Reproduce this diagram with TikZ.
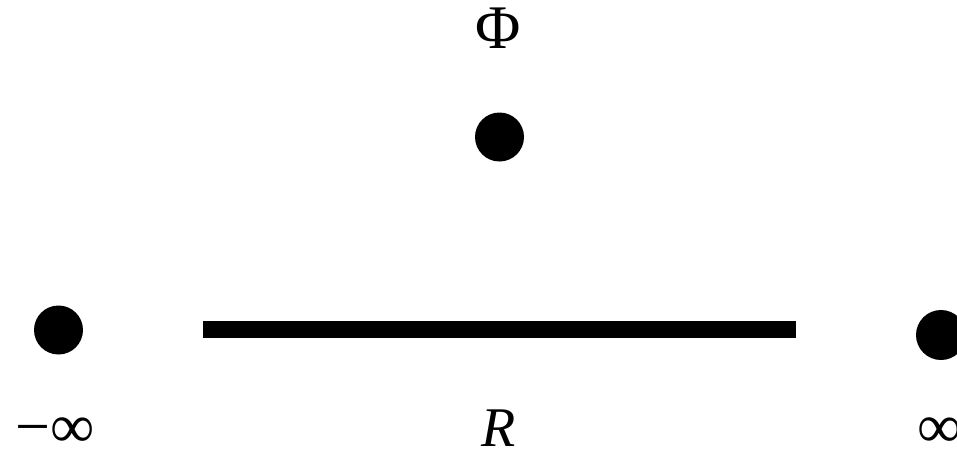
\documentclass[tikz,border=0pt]{standalone}
\usepackage{fontspec}
\setmainfont{Liberation Serif}
\usetikzlibrary{positioning}

\begin{document}
\begin{tikzpicture}[
  x=1pt, y=-1pt,
  vertex/.style={circle, fill=black, inner sep=0pt, minimum size=49pt},
  lbl/.style={font=\fontsize{56}{60}\selectfont, inner sep=0pt, text depth=0pt, anchor=base},
  inflbl/.style={lbl, font=\fontsize{62}{66}\selectfont},
  bar/.style={draw=black, line width=17pt}
]
\useasboundingbox (0,0) rectangle (957,453);
% points
\node[vertex] (phi) at (499.5,137) {};
\node[vertex] (minf) at (58.5,330) {};
\node[vertex, minimum size=50pt] (pinf) at (941,335) {};
% the real line
\coordinate (rl) at (203,329.5);
\coordinate (rr) at (796,329.5);
\draw[bar] (rl) -- (rr);
% labels
\node[lbl, font=\fontsize{62}{66}\selectfont] (philbl) at (498.5,48) {Φ};
\node[inflbl] (minflbl) at (55.5,447) {−∞};
\node[lbl] (rlbl) at (498.5,446) {\textit{R}};
\node[inflbl] (pinflbl) at (940,447) {∞};
\end{tikzpicture}
\end{document}
